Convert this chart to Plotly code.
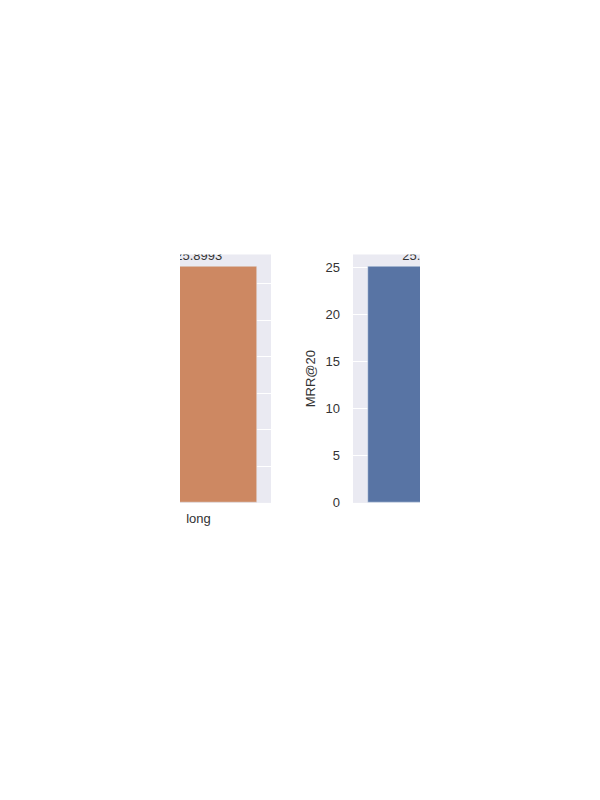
import plotly.graph_objects as go
from plotly.subplots import make_subplots

# values (each panel shows a single bar)
left_cats = ["long"]
left_vals = [25.8993]
right_cats = ["short"]
right_vals = [25.1204]

ORANGE = "#CD8862"
BLUE = "#5874A4"
TEXT = "#333333"
FONT = "Liberation Sans, Arial, sans-serif"

# page has an 8px body margin, so the figure is 16px smaller than the window
W, H = 584, 784


def xdom(a, b):
    return [(a - 8) / W, (b - 8) / W]


def ydom(top, bottom):
    return [1 - (bottom - 8) / H, 1 - (top - 8) / H]


fig = make_subplots(rows=1, cols=2)

fig.add_trace(go.Bar(x=left_cats, y=left_vals, marker_color=ORANGE, width=0.8,
                     text=[f"{v:.4f}" for v in left_vals], textposition="outside",
                     textfont=dict(size=13, color=TEXT), cliponaxis=True),
              row=1, col=1)
fig.add_trace(go.Bar(x=right_cats, y=right_vals, marker_color=BLUE, width=0.8,
                     text=[f"{v:.4f}" for v in right_vals], textposition="outside",
                     textfont=dict(size=13, color=TEXT), cliponaxis=True),
              row=1, col=2)

# the reference is a crop of a wider figure, so the axes ranges cut the bars
fig.update_xaxes(domain=xdom(180, 271), range=[-0.1276, 0.5], row=1, col=1)
fig.update_xaxes(domain=xdom(353, 420), range=[-0.5, -0.038], row=1, col=2)
fig.update_xaxes(showgrid=False, zeroline=False, ticks="", showline=False,
                 tickfont=dict(size=13, color=TEXT), ticklabelstandoff=6)

fig.update_yaxes(domain=ydom(257, 508), showline=False, zeroline=False,
                 gridcolor="white", gridwidth=1.2)
fig.update_yaxes(range=[0, left_vals[0] * 1.05], dtick=4, showticklabels=False,
                 row=1, col=1)
fig.update_yaxes(range=[0, right_vals[0] * 1.05], dtick=5, row=1, col=2,
                 tickfont=dict(size=13, color=TEXT), ticklabelstandoff=12,
                 title=dict(text="MRR@20", font=dict(size=13, color=TEXT), standoff=6))

fig.update_layout(
    width=W, height=H,
    margin=dict(l=0, r=0, t=0, b=0),
    paper_bgcolor="white", plot_bgcolor="#EAEAF2",
    showlegend=False, font=dict(family=FONT),
    bargap=0,
)

fig.write_html("out.html")
